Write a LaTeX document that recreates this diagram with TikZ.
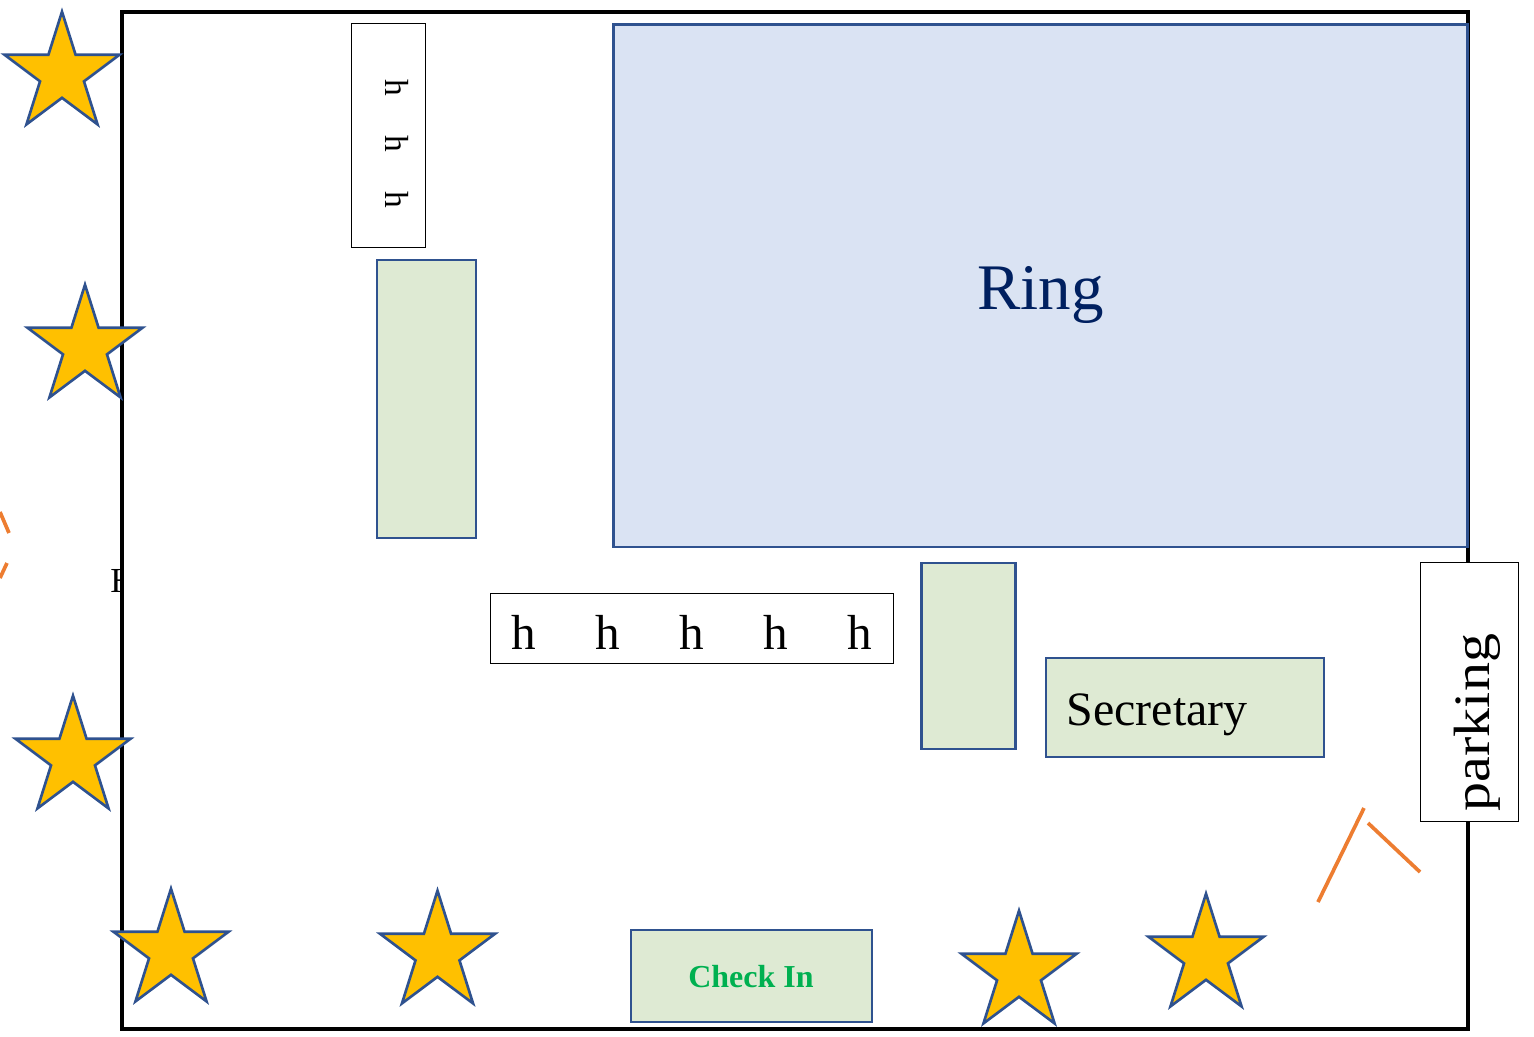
\documentclass[tikz,border=0pt]{standalone}
\usepackage{fontspec}
\setmainfont{Liberation Serif}
\usepackage{xcolor}
\usetikzlibrary{shapes.geometric}
\definecolor{RingBlue}{RGB}{218, 227, 243}
\definecolor{RingText}{RGB}{0, 32, 96}
\definecolor{EdgeBlue}{RGB}{47, 82, 143}
\definecolor{DeskGreen}{RGB}{222, 234, 211}
\definecolor{CheckGreen}{RGB}{0, 176, 80}
\definecolor{StarGold}{RGB}{255, 192, 0}
\definecolor{RopeOrange}{RGB}{237, 125, 49}
\tikzset{
    deskbox/.style={rectangle, draw=EdgeBlue, fill=DeskGreen, line width=1.65pt, inner sep=0pt},
    benchbox/.style={rectangle, draw=black, fill=white, line width=0.45pt, inner sep=0pt},
    guardstar/.style={star, star points=5, star point ratio=2.618, draw=EdgeBlue, fill=StarGold, line width=1.5pt, minimum size=2.42cm, inner sep=0pt, transform shape, yscale=1.03},
    rope/.style={draw=RopeOrange, line width=2.1pt}
}

\begin{document}
\begin{tikzpicture}[x=0.02cm, y=-0.02cm]
            \useasboundingbox (0,0) rectangle (1534,1036);
            \node[inner sep=0pt] (hall) at (123,581) {\fontsize{20}{24}\selectfont H};
            \node[rectangle, draw=black, fill=white, line width=2.2pt, minimum width=26.92cm, minimum height=20.34cm] (frame) at (795,520.5) {};
            % ring and desks
            \node[rectangle, draw=EdgeBlue, fill=RingBlue, line width=1.65pt, minimum width=17.1cm, minimum height=10.46cm, inner sep=0pt] (ring) at (1040.5,285.5) {};
            \node[inner sep=0pt, text=RingText] (ringtext) at (1040.5,295) {\fontsize{37}{44}\selectfont Ring};
            \node[deskbox, minimum width=1.98cm, minimum height=5.56cm] (deskleft) at (426.5,399) {};
            \node[deskbox, minimum width=1.88cm, minimum height=3.72cm] (deskmid) at (968.5,656) {};
            \node[deskbox, minimum width=5.56cm, minimum height=1.98cm] (secretary) at (1185,707.5) {};
            \node[inner sep=0pt] (secretarytext) at (1157,715) {\fontsize{27.3}{32}\selectfont Secretary};
            \node[deskbox, minimum width=4.82cm, minimum height=1.84cm] (checkin) at (751.5,976) {};
            \node[inner sep=0pt, text=CheckGreen] (checkintext) at (751,977) {\fontsize{18.2}{22}\selectfont\bfseries Check In};
            % benches
            \node[benchbox, minimum width=1.48cm, minimum height=4.48cm] (benchtop) at (388.8,135.8) {};
            \foreach \y in {88,144,200} {
                \node[inner sep=0pt, rotate=-90] at (397,\y) {\fontsize{19}{22}\selectfont h};
            }
            \node[benchbox, minimum width=8.06cm, minimum height=1.4cm] (benchrow) at (692.3,628.8) {};
            \foreach \x in {524,608,692,776,860} {
                \node[inner sep=0pt] at (\x,632) {\fontsize{28}{32}\selectfont h};
            }
            \node[benchbox, minimum width=1.96cm, minimum height=5.18cm] (parkingbox) at (1469.8,692.3) {};
            \node[inner sep=0pt, rotate=90] (parkingtext) at (1477.5,722.5) {\scalebox{1}[0.88]{\fontsize{33}{38}\selectfont parking}};
            % guards
            \node[guardstar] (guarda) at (62,74) {};
            \node[guardstar] (guardb) at (85,347) {};
            \node[guardstar] (guardc) at (73,758) {};
            \node[guardstar] (guardd) at (171,951) {};
            \node[guardstar] (guarde) at (437.5,953) {};
            \node[guardstar] (guardf) at (1019,973) {};
            \node[guardstar] (guardg) at (1206,956) {};
            % doors
            \draw[rope] (1318,902) -- (1364,808);
            \draw[rope] (1368,823) -- (1420,872);
            \draw[rope] (0,512) -- (9,533);
            \draw[rope] (7,563) -- (0,578);
        \end{tikzpicture}
\end{document}
